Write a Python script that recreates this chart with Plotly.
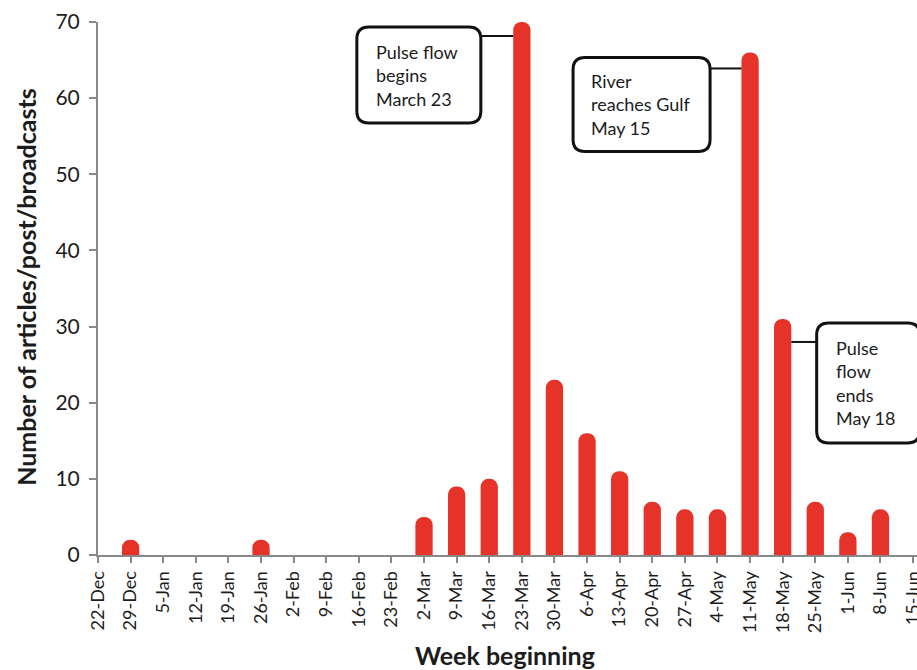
import plotly.graph_objects as go

# Weekly media coverage counts
WEEKS = ["22-Dec", "29-Dec", "5-Jan", "12-Jan", "19-Jan", "26-Jan", "2-Feb", "9-Feb",
         "16-Feb", "23-Feb", "2-Mar", "9-Mar", "16-Mar", "23-Mar", "30-Mar", "6-Apr",
         "13-Apr", "20-Apr", "27-Apr", "4-May", "11-May", "18-May", "25-May", "1-Jun",
         "8-Jun", "15-Jun"]
COUNTS = [0, 2, 0, 0, 0, 2, 0, 0, 0, 0, 5, 9, 10, 70, 23, 16, 11, 7, 6, 6, 66, 31, 7, 3, 6, 0]
Y_TICKS = [0, 10, 20, 30, 40, 50, 60, 70]

# Callouts: (week, value on bar, text)
CALLOUTS = [
    ("23-Mar", 70, "Pulse flow<br>begins<br>March 23"),
    ("11-May", 66, "River<br>reaches Gulf<br>May 15"),
    ("18-May", 31, "Pulse<br>flow<br>ends<br>May 18"),
]
# Box geometry in pixels relative to the bar top: left, right, top, bottom, connector y, text x
CALLOUT_BOXES = [
    (-165, -41, -5, -101, -14, -148),
    (-177, -40, -5, -99, -16, -161),
    (34, 137, -4, -124, -23, 51),
]

BAR_RED = "#E5332A"
AXIS_GRAY = "#898989"
TEXT = "#1c1c1c"
FONT = "Lato"

x_idx = list(range(len(WEEKS)))

fig = go.Figure()
fig.add_trace(go.Bar(
    x=x_idx, y=COUNTS, width=0.53,
    marker=dict(color=BAR_RED, line=dict(width=0), cornerradius=8),
    hoverinfo="skip",
))


def rounded_rect(x0, x1, ytop, ybot, r):
    # pixel coordinates, y measured upward from the anchor
    return (f"M {x0 + r},{ytop} L {x1 - r},{ytop} Q {x1},{ytop} {x1},{ytop - r} "
            f"L {x1},{ybot + r} Q {x1},{ybot} {x1 - r},{ybot} "
            f"L {x0 + r},{ybot} Q {x0},{ybot} {x0},{ybot + r} "
            f"L {x0},{ytop - r} Q {x0},{ytop} {x0 + r},{ytop} Z")


bar_half_px = 0.53 * 32.6 / 2
shapes = []
annotations = []
for (week, val, text), (bl, br, bt, bb, cy, tx) in zip(CALLOUTS, CALLOUT_BOXES):
    xi = WEEKS.index(week)
    # connector from box to bar edge
    if br < 0:
        cx0, cx1 = br, -bar_half_px
    else:
        cx0, cx1 = bar_half_px, bl
    shapes.append(dict(
        type="line", xref="x", yref="y", xsizemode="pixel", ysizemode="pixel",
        xanchor=xi, yanchor=val, x0=cx0, x1=cx1, y0=cy, y1=cy,
        line=dict(color="#111111", width=2), layer="above",
    ))
    shapes.append(dict(
        type="path", xref="x", yref="y", xsizemode="pixel", ysizemode="pixel",
        xanchor=xi, yanchor=val, path=rounded_rect(bl, br, bt, bb, 12),
        fillcolor="white", line=dict(color="#111111", width=3), layer="above",
    ))
    annotations.append(dict(
        x=xi, y=val, xref="x", yref="y", xshift=tx, yshift=(bt + bb) / 2,
        xanchor="left", yanchor="middle", align="left", showarrow=False,
        text=text, font=dict(family=FONT, size=18, color=TEXT),
    ))

annotations.append(dict(
    text="<b>Number of articles/post/broadcasts</b>", textangle=-90,
    xref="paper", yref="paper", x=-0.088, y=0.503, xanchor="center", yanchor="middle",
    showarrow=False, font=dict(family=FONT, size=25, color=TEXT),
))
annotations.append(dict(
    text="<b>Week beginning</b>",
    xref="paper", yref="paper", x=0.497, y=-0.1876, xanchor="center", yanchor="middle",
    showarrow=False, font=dict(family=FONT, size=25, color=TEXT),
))

fig.update_layout(
    width=917, height=670,
    margin=dict(l=98, r=0, t=22, b=115, autoexpand=False),
    paper_bgcolor="white", plot_bgcolor="white",
    showlegend=False,
    shapes=shapes, annotations=annotations,
    xaxis=dict(
        range=[0, 25.12], tickvals=x_idx, ticktext=WEEKS, tickangle=-90,
        ticks="outside", ticklen=6, tickwidth=2, tickcolor=AXIS_GRAY,
        showline=True, linecolor=AXIS_GRAY, linewidth=2,
        showgrid=False, zeroline=False, ticklabelstandoff=1,
        ticklabeloverflow="allow", automargin=False,
        tickfont=dict(family=FONT, size=18, color=TEXT),
    ),
    yaxis=dict(
        range=[0, 70], tickvals=Y_TICKS, automargin=False,
        ticks="outside", ticklen=7, tickwidth=2, tickcolor=AXIS_GRAY,
        showline=True, linecolor=AXIS_GRAY, linewidth=2,
        showgrid=False, zeroline=False, ticklabelstandoff=5,
        tickfont=dict(family=FONT, size=21, color=TEXT),
    ),
)

fig.write_html("out.html")
